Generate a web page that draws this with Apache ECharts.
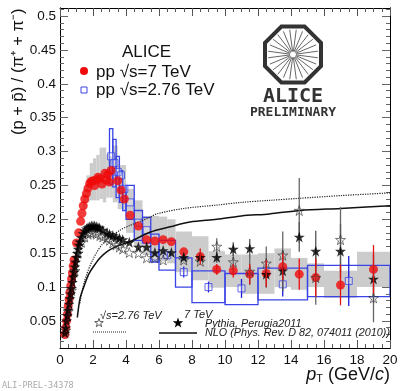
<!DOCTYPE html>
<html>
<head>
<meta charset="utf-8">
<style>html,body{margin:0;padding:0;background:#fff}#chart{width:407px;height:391px}</style>
<script src="https://cdn.jsdelivr.net/npm/echarts@6/dist/echarts.min.js"></script>
</head>
<body>
<div id="chart"></div>
<script>
// axis ticks
var xMajor = [0,2,4,6,8,10,12,14,16,18,20];
var yMajor = [0.05,0.1,0.15,0.2,0.25,0.3,0.35,0.4,0.45,0.5];
var yMinor = [0.02,0.03,0.04,0.06,0.07,0.08,0.09,0.11,0.12,0.13,0.14,0.16,0.17,0.18,0.19,0.21,0.22,0.23,0.24,0.26,0.27,0.28,0.29,0.31,0.32,0.33,0.34,0.36,0.37,0.38,0.39,0.41,0.42,0.43,0.44,0.46,0.47,0.48,0.49,0.51];

// pp 7 TeV points
var redPt  = [0.3,0.35,0.4,0.45,0.5,0.55,0.6,0.65,0.7,0.75,0.8,0.85,1.0,1.13,1.25,1.33,1.41,1.5,1.6,1.7,1.8,1.9,2.0,2.1,2.2,2.3,2.42,2.55,2.73,2.8,2.9,3.0,3.1,3.5,3.7,3.9,4.25,4.75,5.25,5.75,6.25,6.75,7.5,8.5,9.5,10.5,11.5,12.5,13.5,14.5,15.5,17,19];
var redVal = [0.03,0.04,0.05,0.06,0.072,0.082,0.092,0.102,0.112,0.121,0.131,0.14,0.165,0.18,0.197,0.209,0.22,0.23,0.238,0.246,0.253,0.256,0.257,0.25,0.258,0.262,0.26,0.252,0.268,0.258,0.266,0.255,0.272,0.257,0.243,0.23,0.206,0.19,0.17,0.168,0.17,0.167,0.152,0.145,0.126,0.124,0.119,0.12,0.13,0.119,0.114,0.103,0.126];
var redErrPt  = [8.5,9.5,10.5,11.5,12.5,13.5,14.5,15.5,17,19];
var redErrVal = [0.012,0.008,0.01,0.015,0.02,0.02,0.023,0.028,0.03,0.036];

// 7 TeV systematics (grey)
var grayFrom = [1.4,1.6,1.8,2.0,2.2,2.4,2.6,2.8,3.0,3.2,3.5,4.0,4.5,5.0,5.5,6.0,6.5,7,8,9,10,11,12,13,14,15,16,18];
var grayTo   = [1.6,1.8,2.0,2.2,2.4,2.6,2.8,3.0,3.2,3.5,4.0,4.5,5.0,5.5,6.0,6.5,7,8,9,10,11,12,13,14,15,16,18,20];
var grayLow  = [0.215,0.225,0.228,0.228,0.228,0.23,0.225,0.232,0.232,0.225,0.215,0.18,0.16,0.147,0.14,0.138,0.135,0.122,0.11,0.099,0.1,0.09,0.09,0.1,0.096,0.1,0.084,0.1];
var grayHigh = [0.245,0.265,0.283,0.29,0.295,0.306,0.306,0.296,0.293,0.309,0.28,0.245,0.228,0.205,0.205,0.204,0.2,0.182,0.175,0.153,0.148,0.148,0.15,0.157,0.143,0.135,0.124,0.152];

// pp 2.76 TeV points
var bluePt  = [3.1,3.3,3.5,3.7,3.9,4.25,4.75,5.25,5.75,6.5,7.5,9,11,13.5,17.5];
var blueVal = [0.293,0.283,0.27,0.265,0.245,0.225,0.195,0.184,0.145,0.147,0.122,0.1,0.098,0.104,0.109];
var blueErrPt  = [6.5,7.5,9,11,13.5,17.5];
var blueErrVal = [0.004,0.008,0.008,0.014,0.018,0.037];

// 2.76 TeV systematics (blue boxes)
var boxFrom = [3.0,3.2,3.4,3.6,3.8,4.0,4.5,5.0,5.5,6,7,8,10,12,15];
var boxTo   = [3.2,3.4,3.6,3.8,4.0,4.5,5.0,5.5,6,7,8,10,12,15,20];
var boxLow  = [0.252,0.248,0.232,0.225,0.213,0.2,0.169,0.165,0.137,0.125,0.1,0.077,0.074,0.081,0.086];
var boxHigh = [0.334,0.318,0.293,0.272,0.248,0.25,0.213,0.203,0.178,0.169,0.143,0.124,0.12,0.128,0.132];

// Pythia stars, 7 TeV
var starPt  = [0.3,0.35,0.4,0.45,0.5,0.55,0.6,0.65,0.7,0.75,0.8,0.85,0.9,0.95,1.0,1.05,1.1,1.15,1.2,1.3,1.4,1.5,1.6,1.7,1.8,1.9,2.0,2.1,2.2,2.3,2.4,2.6,2.85,3.0,3.2,3.4,3.6,3.8,4.2,4.75,5.25,5.75,6.25,6.75,7.5,8.5,9.5,10.5,11.5,12.5,13.5,14.5,15.5,17,19];
var starVal = [0.032,0.04,0.05,0.058,0.066,0.075,0.083,0.09,0.098,0.107,0.115,0.122,0.13,0.137,0.144,0.15,0.156,0.162,0.167,0.173,0.179,0.183,0.186,0.188,0.189,0.19,0.19,0.19,0.189,0.188,0.187,0.184,0.18,0.178,0.176,0.174,0.172,0.17,0.166,0.159,0.159,0.151,0.154,0.151,0.144,0.144,0.144,0.156,0.157,0.119,0.124,0.174,0.153,0.153,0.112];
var starErrPt  = [7.5,8.5,9.5,10.5,11.5,12.5,13.5,14.5,15.5,17,19];
var starErrVal = [0.005,0.006,0.008,0.01,0.014,0.02,0.03,0.022,0.03,0.04,0.036];

// Pythia stars, 2.76 TeV
var openPt  = [0.35,0.5,0.7,0.9,1.1,1.3,1.5,1.7,1.85,2.0,2.2,2.42,2.6,2.85,3.0,3.2,3.4,3.6,3.8,4.2,4.75,5.25,5.75,6.25,7.5,8.5,9.5,10.5,11.5,12.5,13.5,14.5,15.5,17,19];
var openVal = [0.036,0.064,0.095,0.124,0.15,0.166,0.174,0.178,0.18,0.18,0.178,0.176,0.174,0.172,0.169,0.165,0.162,0.159,0.156,0.151,0.15,0.143,0.143,0.14,0.14,0.138,0.16,0.137,0.123,0.135,0.147,0.213,0.114,0.17,0.084];
var openErrPt  = [9.5,10.5,11.5,12.5,13.5,14.5,15.5,17,19];
var openErrVal = [0.012,0.014,0.02,0.025,0.035,0.048,0.04,0.048,0.036];

// NLO curves
var nlo7Pt   = [1.05,1.21,1.41,1.72,2.02,2.42,2.83,3.33,4.24,5.45,6.67,7.88,9.5,11,12.7,14.55,17,20];
var nlo7Val  = [0.055,0.083,0.098,0.118,0.13,0.143,0.152,0.159,0.167,0.181,0.189,0.196,0.2,0.205,0.208,0.213,0.216,0.22];
var nlo276Pt  = [1.2,1.5,2.02,2.63,3.64,4.24,5.45,5.86,7.5,9.5,11,12.7,14.5,17,20];
var nlo276Val = [0.076,0.11,0.142,0.165,0.184,0.191,0.203,0.208,0.216,0.221,0.225,0.228,0.231,0.235,0.239];

var blue = '#3a44e6', red = '#f00a0a';
var font = '"Liberation Sans", Arial, sans-serif';
var starPath = 'path://M50 2 L62 38 L98 38 L69 60 L80 96 L50 74 L20 96 L31 60 L2 38 L38 38 Z';

function zip2(a, b) { return a.map(function (v, i) { return [v, b[i]]; }); }
function zip4(a, b, c, d) { return a.map(function (v, i) { return [v, b[i], c[i], d[i]]; }); }
function errRows(pt, val, allPt, allVal) {
    return pt.map(function (p, i) { return [p, allVal[allPt.indexOf(p)], val[i]]; });
}

function boxSeries(rows, style, z) {
    return {
        type: 'custom', z: z, silent: true, clip: true, data: rows,
        renderItem: function (params, api) {
            var a = api.coord([api.value(0), api.value(3)]);
            var b = api.coord([api.value(1), api.value(2)]);
            return { type: 'rect', shape: { x: a[0], y: a[1], width: b[0] - a[0], height: b[1] - a[1] }, style: style };
        }
    };
}
function errSeries(rows, color, z) {
    return {
        type: 'custom', z: z, silent: true, clip: true, data: rows,
        renderItem: function (params, api) {
            var x = api.value(0), y = api.value(1), e = api.value(2);
            var a = api.coord([x, y + e]), b = api.coord([x, y - e]);
            return { type: 'line', shape: { x1: a[0], y1: a[1], x2: b[0], y2: b[1] }, style: { stroke: color, lineWidth: 1.3 } };
        }
    };
}
function starPoints(cx, cy, r) {
    var pts = [];
    for (var i = 0; i < 10; i++) {
        var rr = i % 2 ? r * 0.4 : r, t = -Math.PI / 2 + i * Math.PI / 5;
        pts.push([cx + rr * Math.cos(t), cy + rr * Math.sin(t)]);
    }
    return pts;
}

// ALICE logo
var logo = [];
var octa = [];
for (var k = 0; k < 8; k++) {
    var t = Math.PI / 8 + k * Math.PI / 4;
    octa.push([293 + 30.3 * Math.cos(t), 54.5 + 30.3 * Math.sin(t)]);
}
logo.push({ type: 'polygon', shape: { points: octa }, style: { fill: '#fff', stroke: '#333', lineWidth: 4 } });
for (var s = 0; s < 24; s++) {
    var a = s * Math.PI / 12 + 0.13;
    logo.push({ type: 'line', shape: { x1: 293 + 3 * Math.cos(a), y1: 54.5 + 3 * Math.sin(a), x2: 293 + 25 * Math.cos(a), y2: 54.5 + 25 * Math.sin(a) }, style: { stroke: '#666', lineWidth: 1 } });
}

function label(x, y, text, size, extra) {
    var st = { text: text, x: x, y: y, fontFamily: font, fontSize: size, fill: '#111', verticalAlign: 'middle' };
    for (var key in (extra || {})) st[key] = extra[key];
    return { type: 'text', z: 20, style: st };
}

var graphic = logo.concat([
    label(293, 97, 'ALICE', 20, { fontFamily: '"DejaVu Sans Mono"', fontWeight: 'bold', align: 'center', fill: '#333' }),
    label(293, 113, 'PRELIMINARY', 13, { fontFamily: '"DejaVu Sans Mono"', fontWeight: 'bold', align: 'center', fill: '#333' }),
    label(122, 52, 'ALICE', 17),
    label(96, 72, 'pp √s=7 TeV', 17),
    label(96, 90, 'pp √s=2.76 TeV', 17),
    { type: 'circle', z: 20, shape: { cx: 84, cy: 71, r: 4 }, style: { fill: red } },
    { type: 'rect', z: 20, shape: { x: 81, y: 87, width: 6, height: 6 }, style: { fill: 'none', stroke: blue, lineWidth: 1 } },
    { type: 'text', z: 20, rotation: Math.PI / 2, x: 18, y: 135, style: {
        text: '(p + p̄) / (π⁺ + π⁻)', x: 0, y: 0, fontFamily: font, fontSize: 16.5, fill: '#111', align: 'left', verticalAlign: 'middle' } },
    { type: 'text', z: 20, style: {
        text: '{i|p}{s|T} (GeV/{i|c})', x: 390, y: 375, align: 'right', verticalAlign: 'middle', fontFamily: font, fontSize: 18, fill: '#111',
        rich: { i: { fontFamily: font, fontSize: 18, fontStyle: 'italic', fill: '#111' }, s: { fontFamily: font, fontSize: 11, fill: '#111', padding: [8, 0, 0, 0] } } } },
    label(2, 386, 'ALI-PREL-34378', 8.5, { fontFamily: '"DejaVu Sans Mono"', fill: '#aaa' }),
    label(100, 316, '√s=2.76 TeV', 11, { fontStyle: 'italic', fill: '#222' }),
    label(184, 315, '7 TeV', 11, { fontStyle: 'italic', fill: '#222' }),
    label(205, 324, 'Pythia, Perugia2011', 10.8, { fontStyle: 'italic', fill: '#222' }),
    label(205, 333, 'NLO (Phys. Rev. D 82, 074011 (2010))', 10.8, { fontStyle: 'italic', fill: '#222' }),
    { type: 'polygon', z: 20, shape: { points: starPoints(99, 323, 4.5) }, style: { fill: 'none', stroke: '#333', lineWidth: 0.8 } },
    { type: 'polygon', z: 20, shape: { points: starPoints(178, 323, 5.5) }, style: { fill: '#000' } },
    { type: 'line', z: 20, shape: { x1: 93, y1: 332, x2: 126, y2: 332 }, style: { stroke: '#222', lineWidth: 1, lineDash: [1, 1] } },
    { type: 'line', z: 20, shape: { x1: 159, y1: 333, x2: 197, y2: 333 }, style: { stroke: '#111', lineWidth: 1.5 } }
]);

function xAxisAt(pos, labels) {
    return {
        type: 'value', position: pos, min: 0, max: 20, interval: 2,
        splitLine: { show: false },
        axisLine: { onZero: false, lineStyle: { color: '#000', width: 1 } },
        axisTick: { inside: true, length: 8, lineStyle: { color: '#555' } },
        minorTick: { show: true, splitNumber: 4, length: 4, lineStyle: { color: '#555' } },
        axisLabel: { show: labels, margin: 5, fontFamily: font, fontSize: 13.5, color: '#111', customValues: xMajor }
    };
}
function yAxisAt(pos, labels, ticks, len) {
    return {
        type: 'value', position: pos, min: 0.01, max: 0.512,
        splitLine: { show: false },
        axisLine: { onZero: false, lineStyle: { color: '#000', width: 1 } },
        axisTick: { inside: true, length: len, customValues: ticks, lineStyle: { color: '#666' } },
        axisLabel: { show: labels, margin: 4, fontFamily: font, fontSize: 13.5, color: '#111', customValues: yMajor, showMinLabel: true, showMaxLabel: true }
    };
}

var option = {
    animation: false,
    backgroundColor: '#fff',
    grid: { left: 60, right: 17, top: 8, bottom: 43 },
    xAxis: [xAxisAt('bottom', true), xAxisAt('top', false)],
    yAxis: [yAxisAt('left', true, yMajor, 8), yAxisAt('right', false, yMajor, 8), yAxisAt('left', false, yMinor, 4), yAxisAt('right', false, yMinor, 4)],
    graphic: graphic,
    series: [
        boxSeries(zip4(grayFrom, grayTo, grayLow, grayHigh), { fill: '#cccccc' }, 1),
        boxSeries(zip4(boxFrom, boxTo, boxLow, boxHigh), { fill: 'none', stroke: blue, lineWidth: 1.3 }, 2),
        errSeries(errRows(blueErrPt, blueErrVal, bluePt, blueVal), '#1a1ae0', 3),
        { type: 'scatter', z: 4, data: zip2(bluePt, blueVal), symbol: 'rect', symbolSize: 7, itemStyle: { color: 'rgba(255,255,255,0.3)', borderColor: blue, borderWidth: 1 } },
        { type: 'line', z: 5, data: zip2(nlo276Pt, nlo276Val), smooth: 0.3, showSymbol: false, lineStyle: { color: '#222', width: 1.2, type: 'dotted' } },
        { type: 'line', z: 5, data: zip2(nlo7Pt, nlo7Val), smooth: 0.3, showSymbol: false, lineStyle: { color: '#111', width: 1.5 } },
        { type: 'scatter', z: 6, data: zip2(redPt, redVal), symbol: 'circle', symbolSize: 9, itemStyle: { color: red } },
        errSeries(errRows(openErrPt, openErrVal, openPt, openVal), '#666', 7),
        errSeries(errRows(starErrPt, starErrVal, starPt, starVal), '#555', 7),
        { type: 'scatter', z: 8, data: zip2(openPt, openVal), symbol: starPath, symbolSize: 10, itemStyle: { color: 'rgba(255,255,255,0)', borderColor: '#333', borderWidth: 0.8 } },
        { type: 'scatter', z: 9, data: zip2(starPt, starVal), symbol: starPath, symbolSize: 11, itemStyle: { color: '#000' } },
        errSeries(errRows(redErrPt, redErrVal, redPt, redVal), '#e81010', 10)
    ]
};

var myChart = echarts.init(document.getElementById('chart'));
myChart.setOption(option);
</script>
</body>
</html>
